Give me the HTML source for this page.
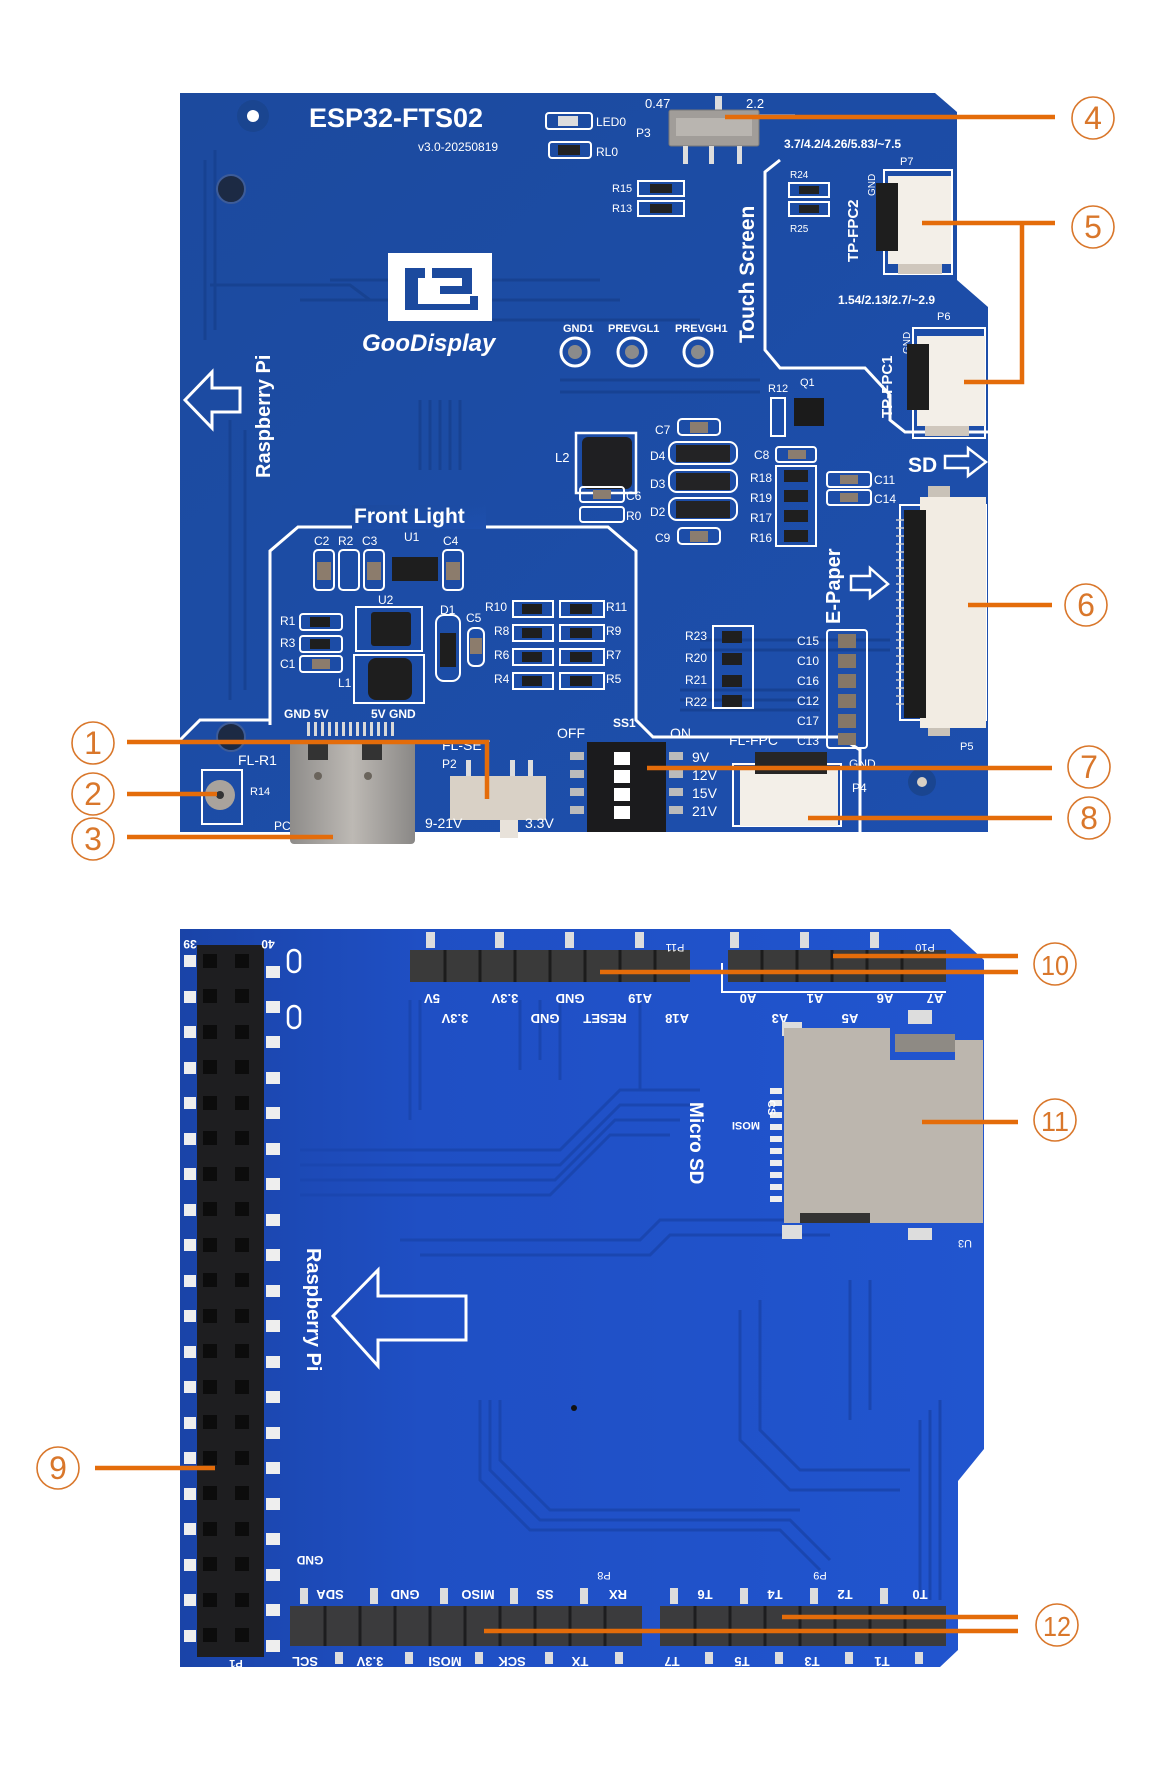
<!DOCTYPE html>
<html><head><meta charset="utf-8"><style>
html,body{margin:0;padding:0;background:#fff}
svg{display:block}
text{font-family:"Liberation Sans",sans-serif}
</style></head><body>
<svg width="1173" height="1766" viewBox="0 0 1173 1766" xmlns="http://www.w3.org/2000/svg">
<defs>
<linearGradient id="b1" x1="0" y1="0" x2="1" y2="1"><stop offset="0" stop-color="#1c4a9e"/><stop offset="1" stop-color="#1d4fae"/></linearGradient>
<linearGradient id="b2" x1="0" y1="0" x2="1" y2="0"><stop offset="0" stop-color="#1a44a8"/><stop offset="0.3" stop-color="#1f4fc4"/><stop offset="1" stop-color="#2155cf"/></linearGradient>
<linearGradient id="met" x1="0" y1="0" x2="1" y2="0"><stop offset="0" stop-color="#8e8c8a"/><stop offset="0.5" stop-color="#bdb9b4"/><stop offset="1" stop-color="#8a8886"/></linearGradient>
</defs>

<!-- ================= TOP BOARD ================= -->
<path d="M180 93 L935 93 L957 112 L957 280 L988 307 L988 832 L180 832 Z" fill="url(#b1)"/>
<!-- traces (subtle) -->
<g stroke="#17408e" stroke-width="3" fill="none" opacity="0.8">
<path d="M205 160 V340 M215 150 V330 M230 420 V700 M245 430 V690"/>
<path d="M300 300 H620 M330 280 H600 M560 380 H760 M560 392 H760"/>
<path d="M420 400 V470 M430 400 V470 M440 400 V470 M450 400 V470 M460 400 V470"/>
<path d="M680 690 H820 M680 700 H820 M680 710 H820 M700 640 H890 M700 650 H890"/>
<path d="M210 285 L350 285 L370 300 L460 300 L480 320 L700 320"/>
</g>
<!-- holes -->
<circle cx="253" cy="116" r="16" fill="#1a4590"/><circle cx="253" cy="116" r="6" fill="#fff"/>
<circle cx="231" cy="189" r="14" fill="#1c2a44" stroke="#3d5c99" stroke-width="2"/>
<circle cx="231" cy="737" r="14" fill="#1c2a44" stroke="#3d5c99" stroke-width="2"/>
<circle cx="922" cy="782" r="14" fill="#1a4590"/><circle cx="922" cy="782" r="5" fill="#d8d0c4"/>

<!-- silkscreen outlines -->
<g stroke="#fff" stroke-width="3" fill="none">
<path d="M270 725 V551 L298 527 H608 L636 551 V720 L653 737 H840 L860 750 V832"/>
<path d="M180 740 L200 720 H270"/>
<path d="M795 116 H748"/>
<path d="M780 160 L765 172 V350 L780 368 H865 L890 395 V420 L905 432 H988"/>
</g>
<!-- Title -->
<text x="309" y="127" font-size="27" font-weight="bold" fill="#fff">ESP32-FTS02</text>
<text x="418" y="151" font-size="12" fill="#fff">v3.0-20250819</text>
<!-- LED0 / RL0 -->
<rect x="546" y="113" width="46" height="16" rx="3" fill="none" stroke="#fff" stroke-width="2"/><rect x="558" y="116" width="20" height="10" fill="#ddd"/>
<rect x="549" y="142" width="42" height="16" rx="3" fill="none" stroke="#fff" stroke-width="2"/><rect x="558" y="145" width="22" height="10" fill="#222"/>
<text x="596" y="126" font-size="12" fill="#fff">LED0</text><text x="596" y="156" font-size="12" fill="#fff">RL0</text>
<!-- switch P3 -->
<text x="645" y="108" font-size="13" fill="#fff">0.47</text><text x="746" y="108" font-size="13" fill="#fff">2.2</text>
<text x="636" y="137" font-size="12" fill="#fff">P3</text>
<rect x="715" y="96" width="7" height="14" fill="#ddd"/>
<rect x="669" y="110" width="90" height="36" rx="2" fill="#a19d99" stroke="#777" stroke-width="1"/>
<rect x="676" y="118" width="76" height="18" fill="#b9b5b0"/>
<rect x="683" y="146" width="5" height="18" fill="#ddd"/><rect x="709" y="146" width="5" height="18" fill="#ddd"/><rect x="737" y="146" width="5" height="18" fill="#ddd"/>
<!-- R15 R13 -->
<text x="612" y="192" font-size="11" fill="#fff">R15</text><text x="612" y="212" font-size="11" fill="#fff">R13</text>
<rect x="638" y="181" width="46" height="15" fill="none" stroke="#fff" stroke-width="2"/><rect x="638" y="201" width="46" height="15" fill="none" stroke="#fff" stroke-width="2"/>
<rect x="650" y="184" width="22" height="9" fill="#222"/><rect x="650" y="204" width="22" height="9" fill="#222"/>
<!-- Touch Screen -->
<text transform="translate(754,343) rotate(-90)" font-size="21" font-weight="bold" fill="#fff">Touch Screen</text>
<text x="784" y="148" font-size="12" font-weight="bold" fill="#fff">3.7/4.2/4.26/5.83/~7.5</text>
<text x="900" y="165" font-size="11" fill="#fff">P7</text>
<text x="790" y="178" font-size="10" fill="#fff">R24</text><text x="790" y="232" font-size="10" fill="#fff">R25</text>
<rect x="789" y="183" width="40" height="14" fill="none" stroke="#fff" stroke-width="2"/><rect x="789" y="202" width="40" height="14" fill="none" stroke="#fff" stroke-width="2"/>
<rect x="799" y="186" width="20" height="8" fill="#222"/><rect x="799" y="205" width="20" height="8" fill="#222"/>
<text transform="translate(858,262) rotate(-90)" font-size="15" font-weight="bold" fill="#fff">TP-FPC2</text>
<text transform="translate(875,196) rotate(-90)" font-size="10" fill="#fff">GND</text>
<!-- P7 connector -->
<rect x="884" y="170" width="68" height="104" fill="none" stroke="#fff" stroke-width="2"/>
<rect x="888" y="176" width="63" height="88" fill="#f3efe8"/>
<rect x="876" y="183" width="22" height="68" fill="#1e1e1e"/>
<rect x="898" y="264" width="44" height="10" fill="#cfc7bd"/>
<!-- P6 -->
<text x="838" y="304" font-size="12" font-weight="bold" fill="#fff">1.54/2.13/2.7/~2.9</text>
<text x="937" y="320" font-size="11" fill="#fff">P6</text>
<text transform="translate(892,418) rotate(-90)" font-size="15" font-weight="bold" fill="#fff">TP-FPC1</text>
<text transform="translate(910,354) rotate(-90)" font-size="10" fill="#fff">GND</text>
<rect x="913" y="328" width="72" height="110" fill="none" stroke="#fff" stroke-width="2"/>
<rect x="917" y="336" width="68" height="90" fill="#f3efe8"/>
<rect x="907" y="344" width="22" height="66" fill="#1e1e1e"/>
<rect x="925" y="426" width="44" height="10" fill="#cfc7bd"/>
<!-- logo -->
<rect x="388" y="253" width="104" height="68" fill="#fff"/>
<path d="M405 268 H425 V278 H418 V304 H470 V296 H478 V310 H405 Z" fill="#1c4a9e"/>
<path d="M432 268 H472 V294 H440 V286 H462 V278 H432 Z" fill="#1c4a9e"/>
<text x="362" y="351" font-size="24" font-weight="bold" font-style="italic" fill="#fff">GooDisplay</text>
<!-- test points -->
<text x="563" y="332" font-size="11" font-weight="bold" fill="#fff">GND1</text>
<text x="608" y="332" font-size="11" font-weight="bold" fill="#fff">PREVGL1</text>
<text x="675" y="332" font-size="11" font-weight="bold" fill="#fff">PREVGH1</text>
<g fill="none" stroke="#fff" stroke-width="3"><circle cx="575" cy="352" r="14"/><circle cx="632" cy="352" r="14"/><circle cx="698" cy="352" r="14"/></g>
<g fill="#8b8b8b"><circle cx="575" cy="352" r="7"/><circle cx="632" cy="352" r="7"/><circle cx="698" cy="352" r="7"/></g>
<!-- Raspberry Pi -->
<text transform="translate(270,478) rotate(-90)" font-size="20" font-weight="bold" fill="#fff">Raspberry Pi</text>
<path d="M185 400 L212 372 V388 H240 V412 H212 V428 Z" fill="none" stroke="#fff" stroke-width="3"/>
<!-- SD -->
<text x="908" y="472" font-size="21" font-weight="bold" fill="#fff">SD</text>
<path d="M945 456 H968 V448 L986 462 L968 476 V468 H945 Z" fill="none" stroke="#fff" stroke-width="2.5"/>
<!-- Q1 R12 -->
<text x="768" y="392" font-size="11" fill="#fff">R12</text><text x="800" y="386" font-size="11" fill="#fff">Q1</text>
<rect x="771" y="398" width="14" height="38" fill="none" stroke="#fff" stroke-width="2"/>
<rect x="794" y="398" width="30" height="28" fill="#1b1b1b"/>
<!-- L2 etc -->
<text x="555" y="462" font-size="13" fill="#fff">L2</text>
<rect x="576" y="433" width="60" height="60" fill="none" stroke="#fff" stroke-width="2.5"/>
<rect x="582" y="437" width="50" height="52" rx="6" fill="#1f1f22"/>
<g fill="none" stroke="#fff" stroke-width="2">
<rect x="669" y="442" width="68" height="22" rx="8"/><rect x="669" y="470" width="68" height="22" rx="8"/><rect x="669" y="498" width="68" height="22" rx="8"/>
<rect x="678" y="419" width="42" height="16" rx="4"/><rect x="678" y="528" width="42" height="16" rx="4"/>
<rect x="580" y="487" width="44" height="15" rx="3"/><rect x="580" y="507" width="44" height="15" rx="3"/>
<rect x="776" y="447" width="40" height="15" rx="3"/>
<rect x="776" y="466" width="40" height="80"/>
<rect x="827" y="472" width="44" height="15" rx="3"/><rect x="827" y="490" width="44" height="15" rx="3"/>
</g>
<g fill="#232325"><rect x="676" y="445" width="54" height="17"/><rect x="676" y="473" width="54" height="17"/><rect x="676" y="501" width="54" height="17"/></g>
<g fill="#8b7d6f"><rect x="690" y="422" width="18" height="11"/><rect x="690" y="531" width="18" height="11"/><rect x="593" y="490" width="18" height="9"/><rect x="788" y="450" width="18" height="9"/><rect x="840" y="475" width="18" height="9"/><rect x="840" y="493" width="18" height="9"/></g>
<g fill="#1f1f1f"><rect x="784" y="470" width="24" height="12"/><rect x="784" y="490" width="24" height="12"/><rect x="784" y="510" width="24" height="12"/><rect x="784" y="530" width="24" height="12"/></g>
<g font-size="12" fill="#fff">
<text x="655" y="434">C7</text><text x="650" y="460">D4</text><text x="650" y="488">D3</text><text x="650" y="516">D2</text><text x="655" y="542">C9</text>
<text x="626" y="500">C6</text><text x="626" y="520">R0</text><text x="754" y="459">C8</text>
<text x="750" y="482">R18</text><text x="750" y="502">R19</text><text x="750" y="522">R17</text><text x="750" y="542">R16</text>
<text x="874" y="484">C11</text><text x="874" y="503">C14</text>
</g>
<!-- E-Paper -->
<text transform="translate(840,624) rotate(-90)" font-size="20" font-weight="bold" fill="#fff">E-Paper</text>
<path d="M851 576 H870 V568 L888 584 L870 598 V590 H851 Z" fill="none" stroke="#fff" stroke-width="2.5"/>
<!-- P5 FPC -->
<rect x="928" y="486" width="22" height="16" fill="#c9c2b8"/><rect x="928" y="722" width="22" height="14" fill="#c9c2b8"/>
<rect x="900" y="505" width="86" height="215" fill="none" stroke="#fff" stroke-width="2"/>
<rect x="920" y="497" width="66" height="231" fill="#f2ece3"/>
<rect x="904" y="510" width="22" height="208" fill="#1c1c1c"/>
<g stroke="#ccc" stroke-width="1.5"><path d="M896 520 H904 M896 528 H904 M896 536 H904 M896 544 H904 M896 552 H904 M896 560 H904 M896 568 H904 M896 576 H904 M896 584 H904 M896 592 H904 M896 600 H904 M896 608 H904 M896 616 H904 M896 624 H904 M896 632 H904 M896 640 H904 M896 648 H904 M896 656 H904 M896 664 H904 M896 672 H904 M896 680 H904 M896 688 H904 M896 696 H904 M896 704 H904"/></g>
<text x="960" y="750" font-size="11" fill="#fff">P5</text>
<!-- C15.. column -->
<g fill="none" stroke="#fff" stroke-width="2"><rect x="827" y="630" width="40" height="118" rx="3"/></g>
<g fill="#857767"><rect x="838" y="634" width="18" height="14"/><rect x="838" y="654" width="18" height="14"/><rect x="838" y="674" width="18" height="14"/><rect x="838" y="694" width="18" height="14"/><rect x="838" y="714" width="18" height="14"/><rect x="838" y="733" width="18" height="12"/></g>
<g font-size="12" fill="#fff"><text x="797" y="645">C15</text><text x="797" y="665">C10</text><text x="797" y="685">C16</text><text x="797" y="705">C12</text><text x="797" y="725">C17</text><text x="797" y="745">C13</text>
<text x="685" y="640">R23</text><text x="685" y="662">R20</text><text x="685" y="684">R21</text><text x="685" y="706">R22</text></g>
<rect x="713" y="626" width="40" height="82" fill="none" stroke="#fff" stroke-width="2"/>
<g fill="#1f1f1f"><rect x="722" y="631" width="20" height="12"/><rect x="722" y="653" width="20" height="12"/><rect x="722" y="675" width="20" height="12"/><rect x="722" y="695" width="20" height="12"/></g>
<!-- Front Light -->
<rect x="352" y="505" width="134" height="24" fill="url(#b1)"/>
<text x="354" y="523" font-size="21" font-weight="bold" fill="#fff">Front Light</text>
<g font-size="12" fill="#fff"><text x="314" y="545">C2</text><text x="338" y="545">R2</text><text x="362" y="545">C3</text><text x="404" y="541">U1</text><text x="443" y="545">C4</text>
<text x="280" y="625">R1</text><text x="280" y="647">R3</text><text x="280" y="668">C1</text><text x="378" y="604">U2</text><text x="338" y="687">L1</text><text x="440" y="614">D1</text><text x="466" y="622">C5</text>
<text x="485" y="611">R10</text><text x="494" y="635">R8</text><text x="494" y="659">R6</text><text x="494" y="683">R4</text>
<text x="606" y="611">R11</text><text x="606" y="635">R9</text><text x="606" y="659">R7</text><text x="606" y="683">R5</text></g>
<g fill="none" stroke="#fff" stroke-width="2">
<rect x="314" y="550" width="20" height="40" rx="4"/><rect x="339" y="550" width="20" height="40" rx="4"/><rect x="364" y="550" width="20" height="40" rx="4"/><rect x="443" y="550" width="20" height="40" rx="4"/>
<rect x="300" y="614" width="42" height="16" rx="3"/><rect x="300" y="636" width="42" height="16" rx="3"/><rect x="300" y="656" width="42" height="16" rx="3"/>
<rect x="356" y="607" width="66" height="44"/><rect x="354" y="655" width="70" height="48"/>
<rect x="436" y="615" width="24" height="66" rx="8"/><rect x="468" y="628" width="16" height="38" rx="6"/>
<rect x="513" y="601" width="40" height="16"/><rect x="560" y="601" width="44" height="16"/>
<rect x="513" y="625" width="40" height="16"/><rect x="560" y="625" width="44" height="16"/>
<rect x="513" y="649" width="40" height="16"/><rect x="560" y="649" width="44" height="16"/>
<rect x="513" y="673" width="40" height="16"/><rect x="560" y="673" width="44" height="16"/>
</g>
<g fill="#1e1e1e"><rect x="392" y="557" width="46" height="24"/><rect x="371" y="612" width="40" height="34" rx="3"/><rect x="368" y="658" width="44" height="42" rx="8"/><rect x="440" y="633" width="16" height="34"/>
<rect x="522" y="604" width="20" height="10"/><rect x="570" y="604" width="22" height="10"/><rect x="522" y="628" width="20" height="10"/><rect x="570" y="628" width="22" height="10"/><rect x="522" y="652" width="20" height="10"/><rect x="570" y="652" width="22" height="10"/><rect x="522" y="676" width="20" height="10"/><rect x="570" y="676" width="22" height="10"/>
<rect x="310" y="617" width="20" height="10"/><rect x="310" y="639" width="20" height="10"/></g>
<g fill="#8c7c6c"><rect x="317" y="562" width="14" height="18"/><rect x="367" y="562" width="14" height="18"/><rect x="446" y="562" width="14" height="18"/><rect x="312" y="659" width="18" height="10"/><rect x="470" y="638" width="12" height="16"/></g>
<!-- bottom area -->
<text x="284" y="718" font-size="12" font-weight="bold" fill="#fff">GND 5V</text>
<text x="371" y="718" font-size="12" font-weight="bold" fill="#fff">5V GND</text>
<text x="238" y="765" font-size="14" fill="#fff">FL-R1</text>
<text x="250" y="795" font-size="11" fill="#fff">R14</text>
<text x="274" y="830" font-size="12" fill="#fff">PC</text>
<rect x="202" y="770" width="40" height="54" fill="none" stroke="#fff" stroke-width="2"/>
<circle cx="220" cy="795" r="15" fill="#a9a39c"/><circle cx="220" cy="795" r="4" fill="#333"/>
<!-- USB-C -->
<g fill="#d9d9d9"><rect x="307" y="722" width="3" height="14"/><rect x="314" y="722" width="3" height="14"/><rect x="321" y="722" width="3" height="14"/><rect x="328" y="722" width="3" height="14"/><rect x="335" y="722" width="3" height="14"/><rect x="342" y="722" width="3" height="14"/><rect x="349" y="722" width="3" height="14"/><rect x="356" y="722" width="3" height="14"/><rect x="363" y="722" width="3" height="14"/><rect x="370" y="722" width="3" height="14"/><rect x="377" y="722" width="3" height="14"/><rect x="384" y="722" width="3" height="14"/><rect x="391" y="722" width="3" height="14"/></g>
<rect x="290" y="740" width="125" height="104" rx="4" fill="url(#met)"/>
<rect x="308" y="742" width="20" height="18" fill="#333"/><rect x="362" y="742" width="20" height="18" fill="#333"/>
<circle cx="318" cy="776" r="4" fill="#6a645c"/><circle cx="368" cy="776" r="4" fill="#6a645c"/>
<!-- slide switch P2 -->
<text x="442" y="750" font-size="14" fill="#fff">FL-SET</text><text x="442" y="768" font-size="12" fill="#fff">P2</text>
<rect x="466" y="760" width="5" height="16" fill="#ddd"/><rect x="510" y="760" width="5" height="16" fill="#ddd"/><rect x="528" y="760" width="5" height="16" fill="#ddd"/>
<rect x="450" y="776" width="96" height="44" fill="#d9d1c6"/>
<rect x="500" y="820" width="18" height="18" fill="#e8e2da"/>
<text x="425" y="828" font-size="14" fill="#fff">9-21V</text><text x="525" y="828" font-size="14" fill="#fff">3.3V</text>
<!-- DIP -->
<text x="557" y="738" font-size="14" fill="#fff">OFF</text><text x="613" y="727" font-size="12" font-weight="bold" fill="#fff">SS1</text><text x="670" y="738" font-size="14" fill="#fff">ON</text>
<rect x="587" y="742" width="79" height="90" fill="#1b1b1d"/>
<g fill="#fff"><rect x="614" y="752" width="16" height="13"/><rect x="614" y="770" width="16" height="13"/><rect x="614" y="788" width="16" height="13"/><rect x="614" y="806" width="16" height="13"/></g>
<g fill="#bbb"><rect x="570" y="752" width="14" height="8"/><rect x="570" y="770" width="14" height="8"/><rect x="570" y="788" width="14" height="8"/><rect x="570" y="806" width="14" height="8"/><rect x="669" y="752" width="14" height="8"/><rect x="669" y="770" width="14" height="8"/><rect x="669" y="788" width="14" height="8"/><rect x="669" y="806" width="14" height="8"/></g>
<g font-size="14" fill="#fff"><text x="692" y="762">9V</text><text x="692" y="780">12V</text><text x="692" y="798">15V</text><text x="692" y="816">21V</text></g>
<!-- P4 -->
<text x="729" y="745" font-size="14" fill="#fff">FL-FPC</text>
<text x="849" y="768" font-size="12" fill="#fff">GND</text><text x="852" y="792" font-size="12" fill="#fff">P4</text>
<rect x="733" y="764" width="108" height="62" fill="none" stroke="#fff" stroke-width="2"/>
<rect x="740" y="770" width="98" height="56" fill="#f3efe8"/>
<rect x="755" y="752" width="72" height="22" fill="#262626"/>

<!-- ================= BOTTOM BOARD ================= -->
<path d="M180 929 L950 929 L984 960 L984 1449 L958 1481 L958 1650 L940 1667 L180 1667 Z" fill="url(#b2)"/>
<g stroke="#1a46b0" stroke-width="3" fill="none">
<path d="M300 1150 H560 L620 1090 H700 M300 1165 H560 L620 1105 H690 M300 1180 H555 L615 1120 H680 M300 1195 H550 L610 1135 H670"/>
<path d="M400 1240 H640 L660 1220 H840 L860 1200 H960 M420 1255 H650 L670 1235 H830"/>
<path d="M480 1400 V1480 L530 1530 H780 L820 1570 M490 1400 V1470 L540 1520 H790 L830 1560 M500 1400 V1460 L550 1510 H800"/>
<path d="M740 1310 V1440 L790 1490 H900 M760 1300 V1430 L800 1470 H910 M850 1280 V1420 M870 1280 V1410"/>
<path d="M940 1400 V1600 M930 1410 V1600 M920 1420 V1600"/>
<path d="M410 1000 V1120 M420 1000 V1110 M520 1000 V1070 M540 1000 V1060 M560 1000 V1080 M640 1000 V1090"/>
</g>
<!-- P1 header -->
<g fill="#eee">
<rect x="184" y="955" width="12" height="12"/><rect x="184" y="991" width="12" height="12"/><rect x="184" y="1026" width="12" height="12"/><rect x="184" y="1062" width="12" height="12"/><rect x="184" y="1097" width="12" height="12"/><rect x="184" y="1133" width="12" height="12"/><rect x="184" y="1168" width="12" height="12"/><rect x="184" y="1204" width="12" height="12"/><rect x="184" y="1239" width="12" height="12"/><rect x="184" y="1275" width="12" height="12"/><rect x="184" y="1310" width="12" height="12"/><rect x="184" y="1346" width="12" height="12"/><rect x="184" y="1381" width="12" height="12"/><rect x="184" y="1417" width="12" height="12"/><rect x="184" y="1452" width="12" height="12"/><rect x="184" y="1488" width="12" height="12"/><rect x="184" y="1523" width="12" height="12"/><rect x="184" y="1559" width="12" height="12"/><rect x="184" y="1594" width="12" height="12"/><rect x="184" y="1630" width="12" height="12"/>
<rect x="266" y="966" width="14" height="12"/><rect x="266" y="1001" width="14" height="12"/><rect x="266" y="1036" width="14" height="12"/><rect x="266" y="1072" width="14" height="12"/><rect x="266" y="1107" width="14" height="12"/><rect x="266" y="1143" width="14" height="12"/><rect x="266" y="1178" width="14" height="12"/><rect x="266" y="1214" width="14" height="12"/><rect x="266" y="1249" width="14" height="12"/><rect x="266" y="1285" width="14" height="12"/><rect x="266" y="1320" width="14" height="12"/><rect x="266" y="1356" width="14" height="12"/><rect x="266" y="1391" width="14" height="12"/><rect x="266" y="1427" width="14" height="12"/><rect x="266" y="1462" width="14" height="12"/><rect x="266" y="1498" width="14" height="12"/><rect x="266" y="1533" width="14" height="12"/><rect x="266" y="1569" width="14" height="12"/><rect x="266" y="1604" width="14" height="12"/><rect x="266" y="1640" width="14" height="12"/>
</g>
<rect x="197" y="945" width="67" height="712" fill="#1e1e20"/>
<g fill="#0c0c0c">
<rect x="203" y="954" width="14" height="14"/><rect x="235" y="954" width="14" height="14"/>
<rect x="203" y="989" width="14" height="14"/><rect x="235" y="989" width="14" height="14"/>
<rect x="203" y="1025" width="14" height="14"/><rect x="235" y="1025" width="14" height="14"/>
<rect x="203" y="1060" width="14" height="14"/><rect x="235" y="1060" width="14" height="14"/>
<rect x="203" y="1096" width="14" height="14"/><rect x="235" y="1096" width="14" height="14"/>
<rect x="203" y="1131" width="14" height="14"/><rect x="235" y="1131" width="14" height="14"/>
<rect x="203" y="1167" width="14" height="14"/><rect x="235" y="1167" width="14" height="14"/>
<rect x="203" y="1202" width="14" height="14"/><rect x="235" y="1202" width="14" height="14"/>
<rect x="203" y="1238" width="14" height="14"/><rect x="235" y="1238" width="14" height="14"/>
<rect x="203" y="1273" width="14" height="14"/><rect x="235" y="1273" width="14" height="14"/>
<rect x="203" y="1309" width="14" height="14"/><rect x="235" y="1309" width="14" height="14"/>
<rect x="203" y="1344" width="14" height="14"/><rect x="235" y="1344" width="14" height="14"/>
<rect x="203" y="1380" width="14" height="14"/><rect x="235" y="1380" width="14" height="14"/>
<rect x="203" y="1415" width="14" height="14"/><rect x="235" y="1415" width="14" height="14"/>
<rect x="203" y="1451" width="14" height="14"/><rect x="235" y="1451" width="14" height="14"/>
<rect x="203" y="1486" width="14" height="14"/><rect x="235" y="1486" width="14" height="14"/>
<rect x="203" y="1522" width="14" height="14"/><rect x="235" y="1522" width="14" height="14"/>
<rect x="203" y="1557" width="14" height="14"/><rect x="235" y="1557" width="14" height="14"/>
<rect x="203" y="1593" width="14" height="14"/><rect x="235" y="1593" width="14" height="14"/>
<rect x="203" y="1628" width="14" height="14"/><rect x="235" y="1628" width="14" height="14"/>
</g>
<text transform="rotate(180,190,940)" x="190" y="940" font-size="12" font-weight="bold" fill="#fff" text-anchor="middle">39</text>
<text transform="rotate(180,268,940)" x="268" y="940" font-size="12" font-weight="bold" fill="#fff" text-anchor="middle">40</text>
<rect x="288" y="950" width="12" height="22" rx="6" fill="none" stroke="#fff" stroke-width="2.5"/>
<rect x="288" y="1006" width="12" height="22" rx="6" fill="none" stroke="#fff" stroke-width="2.5"/>
<!-- P11 / P10 headers -->
<g fill="#ddd">
<rect x="426" y="932" width="9" height="16"/><rect x="495" y="932" width="9" height="16"/><rect x="565" y="932" width="9" height="16"/><rect x="635" y="932" width="9" height="16"/>
<rect x="730" y="932" width="9" height="16"/><rect x="800" y="932" width="9" height="16"/><rect x="870" y="932" width="9" height="16"/>
</g>
<rect x="410" y="950" width="280" height="32" fill="#3a3a3a"/>
<rect x="728" y="950" width="218" height="32" fill="#3a3a3a"/>
<g stroke="#1c1c1c" stroke-width="3"><path d="M445 950 V982 M480 950 V982 M515 950 V982 M550 950 V982 M585 950 V982 M620 950 V982 M655 950 V982 M762 950 V982 M797 950 V982 M832 950 V982 M867 950 V982 M902 950 V982"/></g>
<g stroke="#fff" stroke-width="2" fill="none"><path d="M722 963 V992 H946"/></g>
<text transform="rotate(180,675,944)" x="675" y="944" font-size="11" fill="#fff" text-anchor="middle">P11</text>
<text transform="rotate(180,925,944)" x="925" y="944" font-size="11" fill="#fff" text-anchor="middle">P10</text>
<g font-size="13" font-weight="bold" fill="#fff" text-anchor="middle">
<text transform="rotate(180,432,994)" x="432" y="994">5V</text><text transform="rotate(180,505,994)" x="505" y="994">3.3V</text><text transform="rotate(180,570,994)" x="570" y="994">GND</text><text transform="rotate(180,640,994)" x="640" y="994">A19</text>
<text transform="rotate(180,455,1014)" x="455" y="1014">3.3V</text><text transform="rotate(180,545,1014)" x="545" y="1014">GND</text><text transform="rotate(180,605,1014)" x="605" y="1014">RESET</text><text transform="rotate(180,677,1014)" x="677" y="1014">A18</text>
<text transform="rotate(180,748,994)" x="748" y="994">A0</text><text transform="rotate(180,815,994)" x="815" y="994">A1</text><text transform="rotate(180,885,994)" x="885" y="994">A6</text><text transform="rotate(180,935,994)" x="935" y="994">A7</text>
<text transform="rotate(180,780,1014)" x="780" y="1014">A3</text><text transform="rotate(180,850,1014)" x="850" y="1014">A5</text>
</g>
<!-- SD card -->
<g fill="#ddd"><rect x="782" y="1022" width="20" height="14"/><rect x="782" y="1225" width="20" height="14"/><rect x="908" y="1010" width="24" height="14"/><rect x="908" y="1228" width="24" height="12"/></g>
<path d="M784 1028 H890 V1060 H955 V1040 H983 V1223 H784 Z" fill="#bcb6ae"/>
<rect x="895" y="1034" width="60" height="18" fill="#8e8a84"/>
<rect x="800" y="1213" width="70" height="10" fill="#333"/>
<g fill="#eee"><rect x="770" y="1088" width="12" height="6"/><rect x="770" y="1100" width="12" height="6"/><rect x="770" y="1112" width="12" height="6"/><rect x="770" y="1124" width="12" height="6"/><rect x="770" y="1136" width="12" height="6"/><rect x="770" y="1148" width="12" height="6"/><rect x="770" y="1160" width="12" height="6"/><rect x="770" y="1172" width="12" height="6"/><rect x="770" y="1184" width="12" height="6"/><rect x="770" y="1196" width="12" height="6"/></g>
<text transform="translate(690,1102) rotate(90)" font-size="19" font-weight="bold" fill="#fff">Micro SD</text>
<g font-size="11" font-weight="bold" fill="#fff">
<text transform="translate(768,1100) rotate(90)">CS</text>
<text transform="translate(760,1122) rotate(180)" x="0" y="0">MOSI</text>
</g>
<text transform="rotate(180,965,1240)" x="965" y="1240" font-size="11" fill="#fff" text-anchor="middle">U3</text>
<!-- arrow + Raspberry Pi -->
<path d="M333 1316 L378 1270 V1296 H466 V1340 H378 V1366 Z" fill="none" stroke="#fff" stroke-width="3"/>
<text transform="translate(307,1248) rotate(90)" font-size="20" font-weight="bold" fill="#fff">Raspberry Pi</text>
<circle cx="574" cy="1408" r="3" fill="#111"/>
<text transform="rotate(180,310,1556)" x="310" y="1556" font-size="12" font-weight="bold" fill="#fff" text-anchor="middle">GND</text>
<!-- P8 / P9 -->
<text transform="rotate(180,604,1572)" x="604" y="1572" font-size="11" fill="#fff" text-anchor="middle">P8</text>
<text transform="rotate(180,820,1572)" x="820" y="1572" font-size="11" fill="#fff" text-anchor="middle">P9</text>
<g fill="#ddd">
<rect x="300" y="1588" width="8" height="16"/><rect x="370" y="1588" width="8" height="16"/><rect x="440" y="1588" width="8" height="16"/><rect x="510" y="1588" width="8" height="16"/><rect x="580" y="1588" width="8" height="16"/>
<rect x="670" y="1588" width="8" height="16"/><rect x="740" y="1588" width="8" height="16"/><rect x="810" y="1588" width="8" height="16"/><rect x="880" y="1588" width="8" height="16"/>
<rect x="335" y="1652" width="8" height="12"/><rect x="405" y="1652" width="8" height="12"/><rect x="475" y="1652" width="8" height="12"/><rect x="545" y="1652" width="8" height="12"/><rect x="615" y="1652" width="8" height="12"/>
<rect x="705" y="1652" width="8" height="12"/><rect x="775" y="1652" width="8" height="12"/><rect x="845" y="1652" width="8" height="12"/><rect x="915" y="1652" width="8" height="12"/>
</g>
<rect x="290" y="1606" width="352" height="40" fill="#3b3b3d"/>
<rect x="660" y="1606" width="286" height="40" fill="#3b3b3d"/>
<g stroke="#1d1d1f" stroke-width="3"><path d="M325 1606 V1646 M360 1606 V1646 M395 1606 V1646 M430 1606 V1646 M465 1606 V1646 M500 1606 V1646 M535 1606 V1646 M570 1606 V1646 M605 1606 V1646 M695 1606 V1646 M730 1606 V1646 M765 1606 V1646 M800 1606 V1646 M835 1606 V1646 M870 1606 V1646 M905 1606 V1646"/></g>
<g font-size="13" font-weight="bold" fill="#fff" text-anchor="middle">
<text transform="rotate(180,330,1590)" x="330" y="1590">SDA</text><text transform="rotate(180,405,1590)" x="405" y="1590">GND</text><text transform="rotate(180,478,1590)" x="478" y="1590">MISO</text><text transform="rotate(180,545,1590)" x="545" y="1590">SS</text><text transform="rotate(180,618,1590)" x="618" y="1590">RX</text>
<text transform="rotate(180,705,1590)" x="705" y="1590">T6</text><text transform="rotate(180,775,1590)" x="775" y="1590">T4</text><text transform="rotate(180,845,1590)" x="845" y="1590">T2</text><text transform="rotate(180,920,1590)" x="920" y="1590">T0</text>
<text transform="rotate(180,305,1657)" x="305" y="1657">SCL</text><text transform="rotate(180,370,1657)" x="370" y="1657">3.3V</text><text transform="rotate(180,445,1657)" x="445" y="1657">MOSI</text><text transform="rotate(180,512,1657)" x="512" y="1657">SCK</text><text transform="rotate(180,580,1657)" x="580" y="1657">TX</text>
<text transform="rotate(180,672,1657)" x="672" y="1657">T7</text><text transform="rotate(180,742,1657)" x="742" y="1657">T5</text><text transform="rotate(180,812,1657)" x="812" y="1657">T3</text><text transform="rotate(180,882,1657)" x="882" y="1657">T1</text>
<text transform="rotate(180,236,1660)" x="236" y="1660" font-size="11">P1</text>
</g>

<!-- ================= CALLOUTS ================= -->
<g stroke="#e46c0a" stroke-width="4.5" fill="none">
<path d="M725 117 H1055"/>
<path d="M922 223 H1055 M1022 223 V382 H964"/>
<path d="M968 605 H1052"/>
<path d="M647 768 H1052"/>
<path d="M808 818 H1052"/>
<path d="M127 742 H487 V799"/>
<path d="M127 794 H217"/>
<path d="M127 837 H333"/>
<path d="M95 1468 H215"/>
<path d="M833 956 H1018 M600 972 H1018"/>
<path d="M922 1122 H1018"/>
<path d="M782 1617 H1018 M484 1631 H1018"/>
</g>
<g stroke="#d9772b" stroke-width="1.6" fill="none">
<circle cx="1093" cy="118" r="21"/><circle cx="1093" cy="227" r="21"/><circle cx="1086" cy="605" r="21"/><circle cx="1089" cy="767" r="21"/><circle cx="1089" cy="818" r="21"/>
<circle cx="93" cy="743" r="21"/><circle cx="93" cy="794" r="21"/><circle cx="93" cy="839" r="21"/>
<circle cx="58" cy="1468" r="21"/><circle cx="1055" cy="964" r="21"/><circle cx="1055" cy="1120" r="21"/><circle cx="1057" cy="1625" r="21"/>
</g>
<g font-family="Liberation Serif, serif" font-size="32" fill="#d9772b" text-anchor="middle">
<text x="1093" y="129">4</text><text x="1093" y="238">5</text><text x="1086" y="616">6</text><text x="1089" y="778">7</text><text x="1089" y="829">8</text>
<text x="93" y="754">1</text><text x="93" y="805">2</text><text x="93" y="850">3</text><text x="58" y="1479">9</text>
<text x="1055" y="975" font-size="28" textLength="28" lengthAdjust="spacingAndGlyphs">10</text>
<text x="1055" y="1131" font-size="28" textLength="28" lengthAdjust="spacingAndGlyphs">11</text>
<text x="1057" y="1636" font-size="28" textLength="28" lengthAdjust="spacingAndGlyphs">12</text>
</g>
</svg>
</body></html>
